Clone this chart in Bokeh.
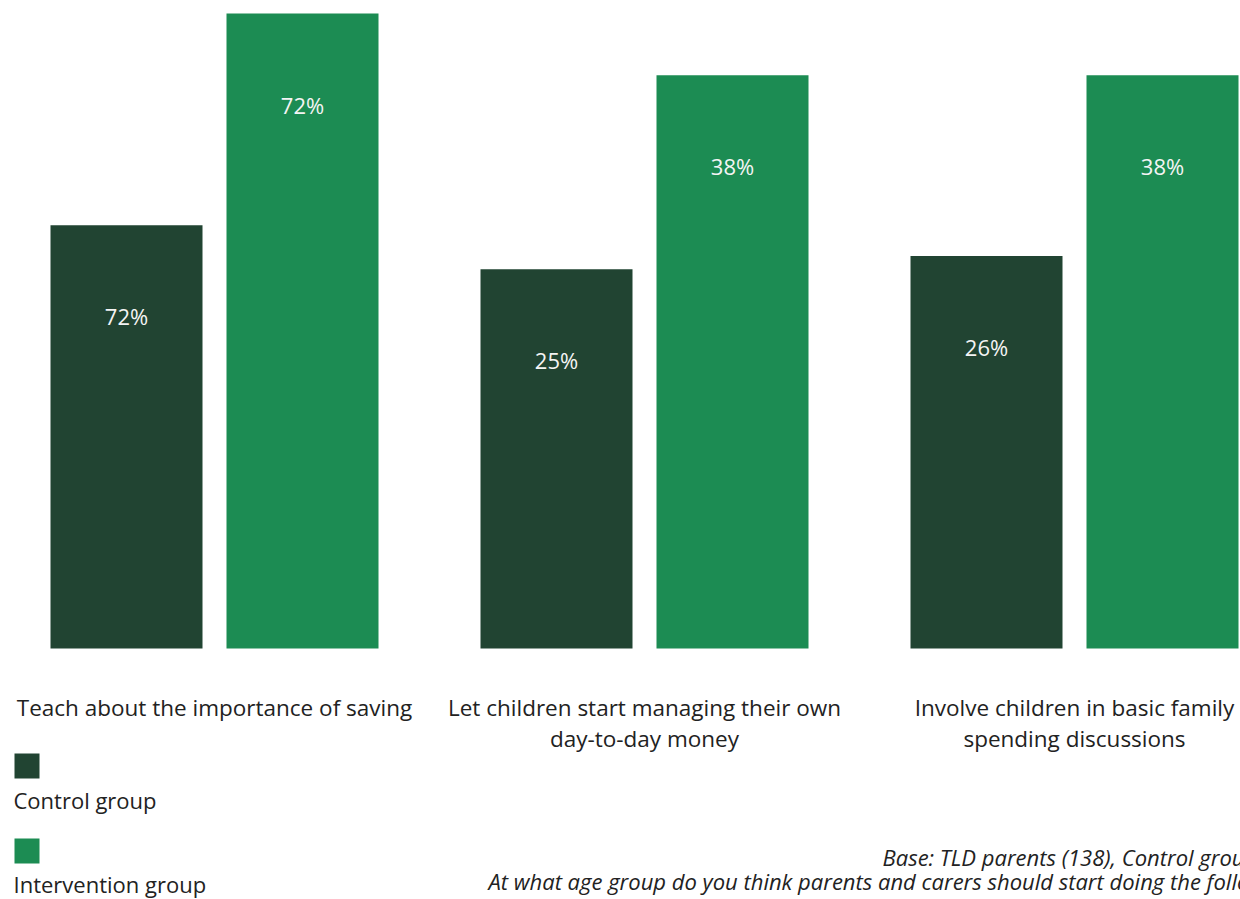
from bokeh.plotting import figure
from bokeh.models import Range1d, ColumnDataSource
from bokeh.core.properties import value
from bokeh.embed import file_html
from bokeh.resources import INLINE

# ---- data ----
categories = [
    "Teach about the importance of saving",
    "Let children start managing their own\nday-to-day money",
    "Involve children in basic family\nspending discussions",
]
control_heights = [48, 43, 44.5]
intervention_heights = [72, 65, 65]
control_labels = ["72%", "25%", "26%"]
intervention_labels = ["72%", "38%", "38%"]
series_names = ["Control group", "Intervention group"]
footnotes = [
    "Base: TLD parents (138), Control group",
    "At what age group do you think parents and carers should start doing the following?",
]

# ---- styling / layout ----
DARK = "#214432"
GREEN = "#1c8c53"
TEXT = "#222222"
FONT = "Open Sans"

W, H = 1240, 899
GROUP_PX = 430.0          # pixels per category step
X0_PX = 214.0             # canvas x of first group centre
BASE_PX = 648.0           # canvas y of bar baseline
K = 635.0 / 72.0          # pixels per value unit

x_start = -X0_PX / GROUP_PX
x_end = x_start + W / GROUP_PX
y_end = BASE_PX / K
y_start = -(H - BASE_PX) / K


def px_x(cx):
    return x_start + cx / GROUP_PX


def px_y(cy):
    return (BASE_PX - cy) / K


p = figure(width=W, height=H, output_backend="svg", toolbar_location=None,
           x_range=Range1d(x_start, x_end), y_range=Range1d(y_start, y_end),
           min_border=0, min_border_left=0, min_border_right=0,
           min_border_top=0, min_border_bottom=0)
p.axis.visible = False
p.grid.visible = False
p.outline_line_color = None
p.background_fill_color = "white"
p.border_fill_color = "white"

idx = list(range(len(categories)))
off = 88.0 / GROUP_PX
bw = 152.0 / GROUP_PX
lab_off = 91.0 / K

src_c = ColumnDataSource(dict(x=[i - off for i in idx], top=control_heights,
                              lab=control_labels,
                              ly=[v - lab_off for v in control_heights]))
src_i = ColumnDataSource(dict(x=[i + off for i in idx], top=intervention_heights,
                              lab=intervention_labels,
                              ly=[v - lab_off for v in intervention_heights]))

p.vbar(x="x", top="top", bottom=0, width=bw, source=src_c,
       fill_color=DARK, line_color=None)
p.vbar(x="x", top="top", bottom=0, width=bw, source=src_i,
       fill_color=GREEN, line_color=None)

for s in (src_c, src_i):
    p.text(x="x", y="ly", text="lab", source=s, text_color="#f4f4f4",
           text_font=value(FONT), text_font_size="22px", text_align="center",
           text_baseline="middle")

# category labels
cat_src = ColumnDataSource(dict(x=idx, y=[px_y(691)] * 3, t=categories))
p.text(x="x", y="y", text="t", source=cat_src, text_color=TEXT,
       text_font=value(FONT), text_font_size="22.5px", text_align="center",
       text_baseline="top", text_line_height=1.0)

# legend
leg_src = ColumnDataSource(dict(x=[px_x(26.5)] * 2,
                                y=[px_y(765.5), px_y(850.5)],
                                c=[DARK, GREEN]))
p.rect(x="x", y="y", width=25, height=25, width_units="screen",
       height_units="screen", source=leg_src, fill_color="c", line_color=None)
leg_txt = ColumnDataSource(dict(x=[px_x(13)] * 2, y=[px_y(799), px_y(883)],
                                t=series_names))
p.text(x="x", y="y", text="t", source=leg_txt, text_color=TEXT,
       text_font=value(FONT), text_font_size="22px", text_align="left",
       text_baseline="alphabetic")

# footnotes (right part runs past the page edge, as in the source)
foot_src = ColumnDataSource(dict(x=[px_x(882), px_x(488)],
                                 y=[px_y(856), px_y(880)], t=footnotes))
p.text(x="x", y="y", text="t", source=foot_src, text_color=TEXT,
       text_font=value(FONT), text_font_size="22px", text_align="left",
       text_baseline="alphabetic", text_font_style="italic")

open("out.html", "w").write(file_html(p, INLINE))
